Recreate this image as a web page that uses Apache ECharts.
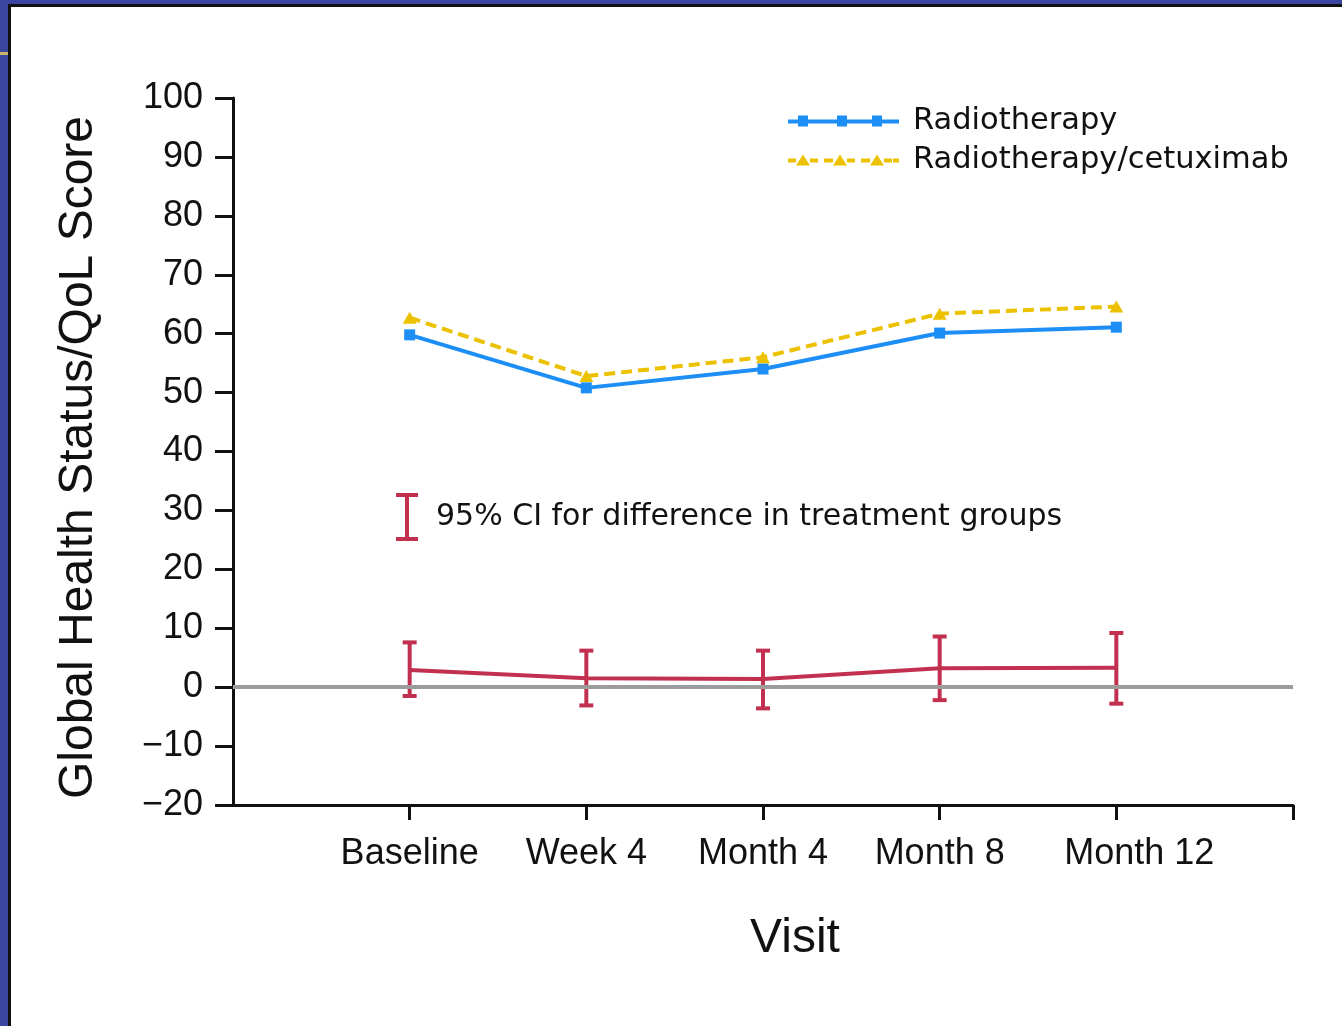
<!DOCTYPE html>
<html>
<head>
<meta charset="utf-8">
<script src="https://cdn.jsdelivr.net/npm/echarts@6/dist/echarts.min.js"></script>
<style>
  html, body { margin: 0; padding: 0; background: #ffffff; }
  #chart { position: absolute; left: 0; top: 0; width: 1342px; height: 1026px; }
  .frame { position: absolute; pointer-events: none; }
</style>
</head>
<body>
<div id="chart"></div>
<!-- slide frame around the figure -->
<div class="frame" style="left:0;top:0;width:1342px;height:4px;background:#3a46a0"></div>
<div class="frame" style="left:8px;top:4px;width:1334px;height:3px;background:#111"></div>
<div class="frame" style="left:0;top:0;width:8px;height:1026px;background:#3a46a0"></div>
<div class="frame" style="left:8px;top:4px;width:3px;height:1022px;background:#111"></div>
<div class="frame" style="left:0;top:52px;width:8px;height:3px;background:#c9b46a"></div>
<script>
const visits = ['Baseline', 'Week 4', 'Month 4', 'Month 8', 'Month 12'];
const radiotherapy = [59.8, 50.8, 54.0, 60.1, 61.1];
const radioCetuximab = [62.7, 52.8, 56.0, 63.4, 64.6];
const diffMean = [2.9, 1.5, 1.4, 3.2, 3.3];
const diffLower = [-1.5, -3.1, -3.6, -2.2, -2.8];
const diffUpper = [7.6, 6.2, 6.2, 8.6, 9.2];
const yTicks = { min: -20, max: 100, step: 10 };

const BLUE = '#1c8ef5';
const YELLOW = '#ebc100';
const RED = '#c2304f';
const FONT = '"Liberation Sans", Arial, sans-serif';
const KEYFONT = '"DejaVu Sans", "Liberation Sans", sans-serif';
const CI_NAME = '95% CI for difference in treatment groups';

// legend icons: line with three markers, like the original key
const blueIcon = 'path://M0 4H111V8H0Z M10 0H20V11H10Z M49 0H59V11H49Z M84 0H94V11H84Z';
const yellowIcon = 'path://M0 4H8V8H0Z M22 4H30V8H22Z M36 4H45V8H36Z M59 4H67V8H59Z M73 4H82V8H73Z M96 4H104V8H96Z M105 4H111V8H105Z' +
  ' M8 11L15 0L22 11Z M45 11L52 0L59 11Z M82 11L89 0L96 11Z';
const ciIcon = 'path://M0 0H22V4H0Z M9 0H13V48H9Z M0 44H22V48H0Z';

const pairs = vals => visits.map((v, i) => [v, vals[i]]);

const chart = echarts.init(document.getElementById('chart'));
chart.setOption({
  backgroundColor: '#ffffff',
  animation: false,
  grid: { left: 233, right: 49, top: 98, bottom: 221 },
  legend: [
    {
      left: 788, top: 104, orient: 'vertical', padding: 0,
      itemWidth: 111, itemHeight: 11, itemGap: 5,
      data: [
        { name: 'Radiotherapy', icon: blueIcon },
        { name: 'Radiotherapy/cetuximab', icon: yellowIcon }
      ],
      textStyle: { fontFamily: KEYFONT, fontSize: 30.5, color: '#111', lineHeight: 34, padding: [0, 0, 0, 9] }
    },
    {
      left: 396, top: 493, padding: 0,
      itemWidth: 22, itemHeight: 48,
      data: [{ name: CI_NAME, icon: ciIcon }],
      textStyle: { fontFamily: KEYFONT, fontSize: 30, color: '#111', padding: [0, 0, 0, 13] }
    }
  ],
  xAxis: {
    type: 'category',
    boundaryGap: false,
    data: [''].concat(visits, [' ']),
    name: 'Visit',
    nameLocation: 'middle',
    nameGap: 110,
    nameTextStyle: { fontFamily: FONT, fontSize: 48, color: '#111', padding: [0, 0, 0, 64] },
    axisLine: { onZero: false, lineStyle: { color: '#111', width: 3 } },
    axisTick: { length: 15, lineStyle: { color: '#111', width: 3 }, interval: i => i !== 0 },
    axisLabel: {
      interval: 0, margin: 31, fontFamily: FONT, fontSize: 36, color: '#111',
      // the last label sits right of its tick in the original
      formatter: v => (v === visits[visits.length - 1] ? '{shift|' + v + '}' : v),
      rich: { shift: { fontFamily: FONT, fontSize: 36, color: '#111', padding: [0, 0, 0, 46] } }
    },
    splitLine: { show: false }
  },
  yAxis: {
    type: 'value',
    min: yTicks.min, max: yTicks.max, interval: yTicks.step,
    name: 'Global Health Status/QoL Score',
    nameLocation: 'middle',
    nameGap: 130,
    nameTextStyle: { fontFamily: FONT, fontSize: 48, color: '#111', padding: [0, 12, 0, 0] },
    axisLine: { show: true, onZero: false, lineStyle: { color: '#111', width: 3 } },
    axisTick: { show: true, length: 18, lineStyle: { color: '#111', width: 3 } },
    axisLabel: {
      margin: 30, fontFamily: FONT, fontSize: 36, color: '#111',
      formatter: v => (v < 0 ? '\u2212' + Math.abs(v) : String(v))
    },
    splitLine: { show: false }
  },
  series: [
    {
      name: 'zero', type: 'line', data: [], z: 1, silent: true,
      markLine: {
        silent: true, symbol: 'none', label: { show: false },
        lineStyle: { color: '#9c9c9c', width: 4, type: 'solid' },
        data: [{ yAxis: 0 }]
      }
    },
    {
      name: 'Radiotherapy', type: 'line', data: pairs(radiotherapy), z: 3,
      symbol: 'rect', symbolSize: 11,
      itemStyle: { color: BLUE },
      lineStyle: { color: BLUE, width: 4 }
    },
    {
      name: 'Radiotherapy/cetuximab', type: 'line', data: pairs(radioCetuximab), z: 4,
      symbol: 'triangle', symbolSize: [14, 12],
      itemStyle: { color: YELLOW },
      lineStyle: { color: YELLOW, width: 4, type: [11, 6] }
    },
    {
      name: 'difference', type: 'line', data: pairs(diffMean), z: 3,
      showSymbol: false, symbol: 'none',
      itemStyle: { color: RED },
      lineStyle: { color: RED, width: 4 }
    },
    {
      name: CI_NAME, type: 'custom', z: 4,
      itemStyle: { color: RED },
      encode: { x: 0, y: [1, 2] },
      data: visits.map((v, i) => [v, diffLower[i], diffUpper[i]]),
      renderItem: (params, api) => {
        const x = api.value(0);
        const lo = api.coord([x, api.value(1)]);
        const hi = api.coord([x, api.value(2)]);
        const hw = 7;
        const st = { stroke: RED, lineWidth: 4 };
        return {
          type: 'group',
          children: [
            { type: 'line', shape: { x1: hi[0], y1: hi[1], x2: lo[0], y2: lo[1] }, style: st },
            { type: 'line', shape: { x1: hi[0] - hw, y1: hi[1], x2: hi[0] + hw, y2: hi[1] }, style: st },
            { type: 'line', shape: { x1: lo[0] - hw, y1: lo[1], x2: lo[0] + hw, y2: lo[1] }, style: st }
          ]
        };
      }
    }
  ]
});
</script>
</body>
</html>
